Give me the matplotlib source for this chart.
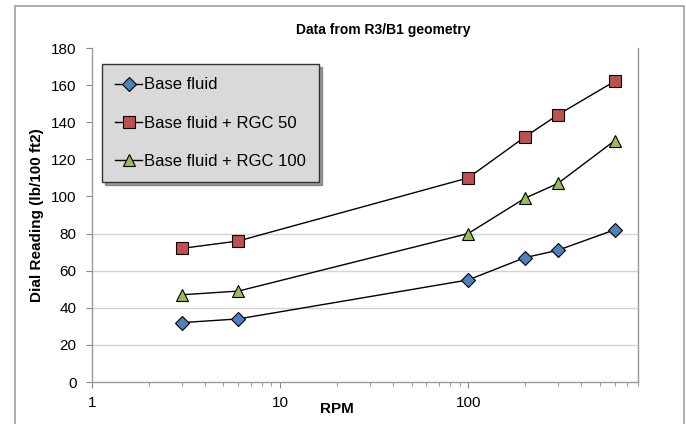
import matplotlib
matplotlib.use("Agg")
import matplotlib.pyplot as plt
from matplotlib.patches import Rectangle

plt.rcParams['font.family'] = ['Liberation Sans', 'DejaVu Sans']

rpm = [3, 6, 100, 200, 300, 600]
base = [32, 34, 55, 67, 71, 82]
rgc50 = [72, 76, 110, 132, 144, 162]
rgc100 = [47, 49, 80, 99, 107, 130]
labels = ["Base fluid", "Base fluid + RGC 50", "Base fluid + RGC 100"]
yticks = [0, 20, 40, 60, 80, 100, 120, 140, 160, 180]
grid_levels = [20, 40, 60, 80]

W, H = 686, 424
fig = plt.figure(figsize=(W / 100, H / 100), dpi=100)
ax = fig.add_axes([92 / W, 1 - 382 / H, (638 - 92) / W, (382 - 48) / H])

# outer chart frame
fig.patches.append(Rectangle((15 / W, -0.05), (684 - 15) / W, 1 - 6 / H + 0.05,
                             transform=fig.transFigure, fill=False,
                             edgecolor='#a0a0a0', linewidth=1.2))

for g in grid_levels:
    ax.axhline(g, color='#d4d4d4', linewidth=1.0, zorder=0)

ax.plot(rpm, base, color='black', linewidth=1.0, marker='D', markersize=7.5,
        markerfacecolor='#4f81bd', markeredgecolor='black', markeredgewidth=0.8,
        label=labels[0], zorder=3)
ax.plot(rpm, rgc50, color='black', linewidth=1.0, marker='s', markersize=8.5,
        markerfacecolor='#c0504d', markeredgecolor='black', markeredgewidth=0.8,
        label=labels[1], zorder=3)
ax.plot(rpm, rgc100, color='black', linewidth=1.0, marker='^', markersize=9,
        markerfacecolor='#9bbb59', markeredgecolor='black', markeredgewidth=0.8,
        label=labels[2], zorder=3)

ax.set_xscale('log')
ax.set_xlim(1, 800)
ax.set_ylim(0, 180)
ax.set_yticks(yticks)
ax.set_xticks([1, 10, 100])
ax.set_xticklabels(['1', '10', '100'])
ax.tick_params(axis='both', which='major', labelsize=11, length=4,
               color='#888888', direction='out')
ax.tick_params(axis='y', which='major', pad=7)
ax.tick_params(axis='x', which='minor', length=3, color='#888888', direction='out')
ax.tick_params(axis='x', which='major', pad=6)

for s in ['left', 'bottom', 'right']:
    ax.spines[s].set_color('#999999')
    ax.spines[s].set_linewidth(1.0)
ax.spines['top'].set_visible(False)

fig.text(383 / W, 1 - 30 / H, "Data from R3/B1 geometry", ha='center', va='center',
         fontsize=10, fontweight='bold')
fig.text(337 / W, 1 - 409 / H, "RPM", ha='center', va='center',
         fontsize=11, fontweight='bold')
fig.text(37 / W, 1 - 215 / H, "Dial Reading (lb/100 ft2)", ha='center', va='center',
         rotation=90, fontsize=11, fontweight='bold')

leg = ax.legend(loc='upper left', bbox_to_anchor=((102 - 92) / (638 - 92), 1 - (64 - 48) / (382 - 48)),
                frameon=True, fancybox=False, shadow=True, fontsize=12,
                handlelength=1.6, handletextpad=0.1, borderpad=0.8,
                labelspacing=1.4, borderaxespad=0)
leg.get_frame().set_facecolor('#d9d9d9')
leg.get_frame().set_edgecolor('#333333')
leg.get_frame().set_linewidth(1.0)
leg.get_frame().set_alpha(1)

fig.savefig("out.png", dpi=100)
